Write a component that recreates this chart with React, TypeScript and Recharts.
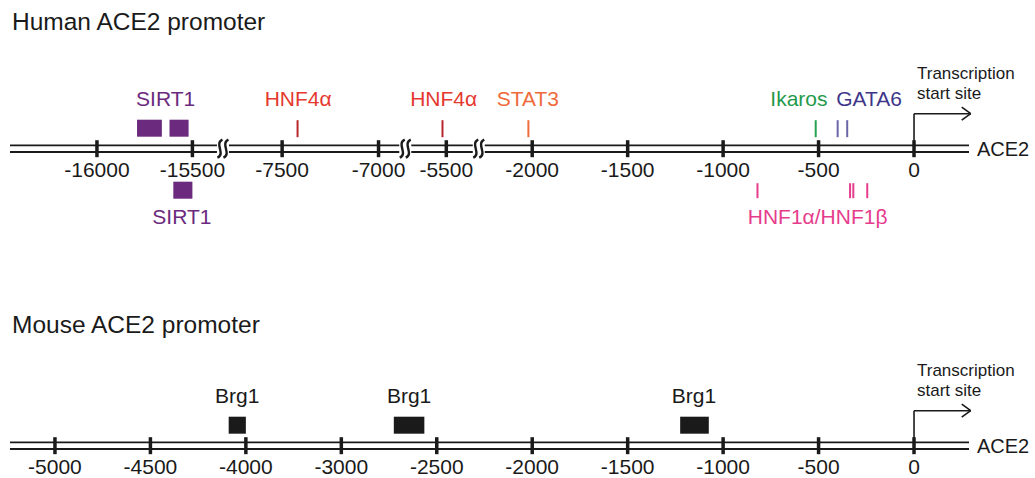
import React from 'react';
import { ComposedChart, XAxis, YAxis, ReferenceLine, ReferenceArea, Scatter } from 'recharts';

// positions are bp relative to the transcription start site
const humanTicks = [-16000, -15500, -7500, -7000, -5500, -2000, -1500, -1000, -500, 0];
const sirt1Upper: [number, number][] = [[-15790, -15660], [-15620, -15520]];
const sirt1Lower: [number, number][] = [[-15600, -15500]];
const hnf4aSites = [-7420, -5520];
const stat3Sites = [-2020];
const ikarosSites = [-515];
const gata6Sites = [-400, -350];
const hnf1Sites = [-820, -335, -318, -245];
const humanLabels = [
  { text: 'SIRT1', bp: -15640, side: 'up', factor: 'SIRT1' },
  { text: 'SIRT1', bp: -15555, side: 'down', factor: 'SIRT1' },
  { text: 'HNF4α', bp: -7417, side: 'up', factor: 'HNF4a' },
  { text: 'HNF4α', bp: -5514, side: 'up', factor: 'HNF4a' },
  { text: 'STAT3', bp: -2023, side: 'up', factor: 'STAT3' },
  { text: 'Ikaros', bp: -603, side: 'up', factor: 'Ikaros' },
  { text: 'GATA6', bp: -235, side: 'up', factor: 'GATA6' },
  { text: 'HNF1α/HNF1β', bp: -505, side: 'down', factor: 'HNF1' },
];

const mouseTicks = [-5000, -4500, -4000, -3000, -2500, -2000, -1500, -1000, -500, 0];
const brg1Boxes: [number, number][] = [[-4090, -4000], [-2725, -2565], [-1225, -1075]];
const mouseLabels = [
  { text: 'Brg1', bp: -4045, side: 'up', factor: 'Brg1' },
  { text: 'Brg1', bp: -2645, side: 'up', factor: 'Brg1' },
  { text: 'Brg1', bp: -1153, side: 'up', factor: 'Brg1' },
];

// colours
const INK = '#1a1a1a';
const COLORS: Record<string, { label: string; mark: string }> = {
  SIRT1: { label: '#6b2a7d', mark: '#6b2a7d' },
  HNF4a: { label: '#e5382f', mark: '#b8262c' },
  STAT3: { label: '#ef6a3a', mark: '#ef6b3c' },
  Ikaros: { label: '#1f9a4b', mark: '#27a24f' },
  GATA6: { label: '#3d3789', mark: '#6a66a9' },
  HNF1: { label: '#e63c8c', mark: '#e63c8c' },
  Brg1: { label: INK, mark: INK },
};

// layout: axis slots (one slot ~ one 500 bp step), breaks drawn between segments
const HUMAN_SLOTS = [-8.56, -7.56, -6.62, -5.61, -4.9, -4, -3, -2, -1, 0];
const HUMAN_BREAKS = [-7.24, -5.33, -4.56];
const MOUSE_SLOTS = [-9, -8, -7, -6, -5, -4, -3, -2, -1, 0];
const X_DOMAIN = [-9.471, 0.576];
const Y_MAX = 110;
const UP_BOX = [12, 29];
const DOWN_BOX = [-50, -33];
const UP_LINE = [11.5, 28.5];
const DOWN_LINE = [-49.5, -34.5];
const LABEL_UP = 50.5;
const LABEL_DOWN = -67.5;
const FONT = '"Liberation Sans", Arial, Helvetica, sans-serif';

function bpToSlot(bp: number, ticks: number[], slots: number[], breaks: number[]) {
  let i = 0;
  while (i < ticks.length - 2 && bp > ticks[i + 1]) i++;
  const a = ticks[i], b = ticks[i + 1];
  const sa = slots[i], sb = slots[i + 1];
  const broken = breaks.some((k) => k > sa && k < sb);
  if (!broken) return sa + ((bp - a) / (b - a)) * (sb - sa);
  // across a break keep the local scale of the nearer tick
  return bp - a < b - bp ? sa + (bp - a) / 500 : sb - (b - bp) / 500;
}

const TextMark = (p: any) => {
  const d = p.payload;
  return (
    <text x={p.cx} y={p.cy} dy="0.358em" textAnchor={d.anchor} fill={d.fill} fontSize={d.size}>
      {d.text}
    </text>
  );
};

const BreakMark = (p: any) => {
  const { cx, cy } = p;
  const s = (sx: number) =>
    `M${sx + 2.5},${cy - 9} C${sx - 6},${cy - 5} ${sx + 6},${cy + 5} ${sx - 2.5},${cy + 9}`;
  return (
    <g>
      <rect x={cx - 6} y={cy - 5} width={12} height={10} fill="#fff" />
      <path d={s(cx - 3)} stroke={INK} strokeWidth={2.4} fill="none" />
      <path d={s(cx + 3)} stroke={INK} strokeWidth={2.4} fill="none" />
    </g>
  );
};

type Box = { from: number; to: number; side: string; fill: string };
type Site = { bp: number; side: string; stroke: string };
type Lab = { text: string; bp: number; side: string; factor: string };

function Track(props: {
  top: number; height: number; lineY: number; yMin: number;
  ticks: number[]; slots: number[]; breaks: number[];
  boxes: Box[]; sites: Site[]; labels: Lab[];
}) {
  const { top, height, lineY, yMin, ticks, slots, breaks, boxes, sites, labels } = props;
  const toX = (bp: number) => bpToSlot(bp, ticks, slots, breaks);
  const marginTop = lineY - Y_MAX;
  const marginBottom = height - marginTop - (Y_MAX - yMin);

  const labelPoints = labels.map((l) => ({
    x: toX(l.bp),
    y: l.side === 'up' ? LABEL_UP : LABEL_DOWN,
    text: l.text,
    fill: COLORS[l.factor].label,
    anchor: 'middle',
    size: 21,
  }));
  labelPoints.push(
    { x: 0.031, y: 76, text: 'Transcription', fill: INK, anchor: 'start', size: 17 },
    { x: 0.031, y: 55.5, text: 'start site', fill: INK, anchor: 'start', size: 17 },
  );
  const breakPoints = breaks.map((b) => ({ x: b, y: 0 }));
  const tip = 0.594;
  const back = 0.094;

  return (
    <div style={{ position: 'absolute', left: 0, top }}>
      <ComposedChart width={1035} height={height} margin={{ top: marginTop, right: 66, bottom: marginBottom, left: 10 }}>
        <XAxis type="number" dataKey="x" domain={X_DOMAIN} hide />
        <YAxis type="number" dataKey="y" domain={[yMin, Y_MAX]} hide />
        <ReferenceLine y={3.3} stroke={INK} strokeWidth={1.8} />
        <ReferenceLine y={-3.3} stroke={INK} strokeWidth={1.8} />
        <ReferenceLine
          y={0}
          stroke="none"
          label={{ value: 'ACE2', position: 'right', offset: 8, fontSize: 20, fill: INK }}
        />
        {ticks.map((t, i) => (
          <ReferenceLine
            key={'t' + t}
            segment={[{ x: slots[i], y: -8.5 }, { x: slots[i], y: 8.5 }]}
            stroke={INK}
            strokeWidth={3.5}
            ifOverflow="visible"
            label={{ value: String(t), position: 'bottom', offset: 5, fontSize: 21, fill: INK }}
          />
        ))}
        {boxes.map((b, i) => {
          const [y1, y2] = b.side === 'up' ? UP_BOX : DOWN_BOX;
          return (
            <ReferenceArea
              key={'b' + i}
              x1={toX(b.from)}
              x2={toX(b.to)}
              y1={y1}
              y2={y2}
              fill={b.fill}
              fillOpacity={1}
              stroke="none"
              ifOverflow="visible"
            />
          );
        })}
        {sites.map((s, i) => {
          const [y1, y2] = s.side === 'up' ? UP_LINE : DOWN_LINE;
          const x = toX(s.bp);
          return (
            <ReferenceLine
              key={'s' + i}
              segment={[{ x, y: y1 }, { x, y: y2 }]}
              stroke={s.stroke}
              strokeWidth={2}
              ifOverflow="visible"
            />
          );
        })}
        <ReferenceLine segment={[{ x: 0, y: -3.3 }, { x: 0, y: 35 }]} stroke={INK} strokeWidth={1.6} ifOverflow="visible" />
        <ReferenceLine segment={[{ x: 0, y: 35 }, { x: tip, y: 35 }]} stroke={INK} strokeWidth={1.6} ifOverflow="visible" />
        <ReferenceLine segment={[{ x: tip - back, y: 41.5 }, { x: tip, y: 35 }]} stroke={INK} strokeWidth={1.6} ifOverflow="visible" />
        <ReferenceLine segment={[{ x: tip - back, y: 28.5 }, { x: tip, y: 35 }]} stroke={INK} strokeWidth={1.6} ifOverflow="visible" />
        <Scatter data={breakPoints} shape={BreakMark} isAnimationActive={false} />
        <Scatter data={labelPoints} shape={TextMark} isAnimationActive={false} />
      </ComposedChart>
    </div>
  );
}

export default function App() {
  const humanBoxes: Box[] = [
    ...sirt1Upper.map(([from, to]) => ({ from, to, side: 'up', fill: COLORS.SIRT1.mark })),
    ...sirt1Lower.map(([from, to]) => ({ from, to, side: 'down', fill: COLORS.SIRT1.mark })),
  ];
  const humanSites: Site[] = [
    ...hnf4aSites.map((bp) => ({ bp, side: 'up', stroke: COLORS.HNF4a.mark })),
    ...stat3Sites.map((bp) => ({ bp, side: 'up', stroke: COLORS.STAT3.mark })),
    ...ikarosSites.map((bp) => ({ bp, side: 'up', stroke: COLORS.Ikaros.mark })),
    ...gata6Sites.map((bp) => ({ bp, side: 'up', stroke: COLORS.GATA6.mark })),
    ...hnf1Sites.map((bp) => ({ bp, side: 'down', stroke: COLORS.HNF1.mark })),
  ];
  const mouseBoxes: Box[] = brg1Boxes.map(([from, to]) => ({ from, to, side: 'up', fill: COLORS.Brg1.mark }));

  return (
    <div style={{ position: 'absolute', left: 0, top: 0, width: 1035, height: 478, background: '#fff', fontFamily: FONT }}>
      <svg width={1035} height={478} style={{ position: 'absolute', left: 0, top: 0 }}>
        <text x={12} y={29.5} fontSize={24.5} fill={INK}>Human ACE2 promoter</text>
        <text x={12} y={333} fontSize={24.5} fill={INK}>Mouse ACE2 promoter</text>
      </svg>
      <Track
        top={0}
        height={245}
        lineY={148.7}
        yMin={-90}
        ticks={humanTicks}
        slots={HUMAN_SLOTS}
        breaks={HUMAN_BREAKS}
        boxes={humanBoxes}
        sites={humanSites}
        labels={humanLabels}
      />
      <Track
        top={300}
        height={178}
        lineY={145.7}
        yMin={-30}
        ticks={mouseTicks}
        slots={MOUSE_SLOTS}
        breaks={[]}
        boxes={mouseBoxes}
        sites={[]}
        labels={mouseLabels}
      />
    </div>
  );
}
